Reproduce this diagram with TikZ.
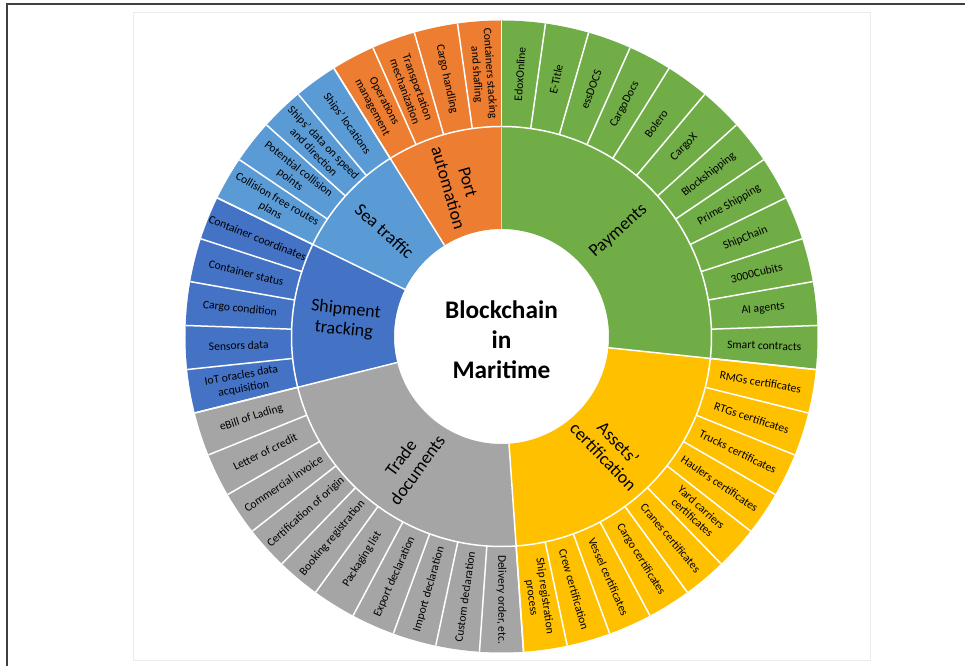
\documentclass[tikz,border=0pt]{standalone}
\usepackage{fontspec}
\setmainfont{Carlito}
\usepackage{color}
\definecolor{pay}{HTML}{70AD47}
\definecolor{cert}{HTML}{FFC000}
\definecolor{trade}{HTML}{A5A5A5}
\definecolor{track}{HTML}{4472C4}
\definecolor{sea}{HTML}{5B9BD5}
\definecolor{port}{HTML}{ED7D31}

\begin{document}
\begin{tikzpicture}[
  leaf/.style={font=\fontsize{6.6}{7.6}\selectfont,align=center},
  group/.style={font=\fontsize{10.2}{11.6}\selectfont,align=center},
  hub/.style={font=\fontsize{14.4}{17}\selectfont\bfseries,align=center},
  gap/.style={white,line width=0.85pt}]

\useasboundingbox (-10.03,-6.59) rectangle (9.27,6.73);
\draw[black!75,line width=1.1pt] (-9.89,-6.59) -- (-9.89,6.65) -- (9.27,6.65);
\draw[black!8] (-7.37,-6.47) rectangle (7.37,6.49);

\def\rhub{2.15}
\def\rmid{4.2}
\def\rout{6.32}

\def\groups{1/90/-6/pay/{Payments},2/-6/-86/cert/{Assets’\\certification},3/-86/-166/trade/{Trade\\documents},4/-166/-206/track/{Shipment\\tracking},5/-206/-238/sea/{Sea traffic},6/-238/-270/port/{Port\\automation}}
\foreach \i / \a / \b / \col / \element in \groups {
  \fill[\col] (\a:\rhub) -- (\a:\rout) arc[start angle=\a,end angle=\b,radius=\rout]
    -- (\b:\rhub) arc[start angle=\b,end angle=\a,radius=\rhub] -- cycle;
  \draw[gap] (\a:\rhub) -- (\a:\rout);
  \draw[gap] (\a:\rmid) arc[start angle=\a,end angle=\b,radius=\rmid];
  \pgfmathsetmacro\m{(\a+\b)/2}
  \pgfmathsetmacro\r{\m<-90 ? \m+180 : \m}
  \node[group,rotate=\r] (p\i) at (\m:3.15) {\element};
}

\foreach \k in {0,...,44}
  \draw[gap] ({90-8*\k}:\rmid) -- ({90-8*\k}:\rout);

\def\leaves{0/{EdoxOnline},1/{E-Title},2/{essDOCS},3/{CargoDocs},4/{Bolero},5/{CargoX},6/{Blockshipping},7/{Prime Shipping},8/{ShipChain},9/{3000Cubits},10/{AI agents},11/{Smart contracts},12/{RMGs certificates},13/{RTGs certificates},14/{Trucks certificates},15/{Haulers certificates},16/{Yard carriers\\certificates},17/{Cranes certificates},18/{Cargo certificates},19/{Vessel certificates},20/{Crew certification},21/{Ship registration\\process},22/{Delivery order, etc.},23/{Custom declaration},24/{Import declaration},25/{Export declaration},26/{Packaging list},27/{Booking registration},28/{Certification of origin},29/{Commercial invoice},30/{Letter of credit},31/{eBill of Lading},32/{IoT oracles data\\acquisition},33/{Sensors data},34/{Cargo condition},35/{Container status},36/{Container coordinates},37/{Collision free routes\\plans},38/{Potential collision\\points},39/{Ships’ data on speed\\and direction},40/{Ships’ locations},41/{Operations\\management},42/{Transportation\\mechanization},43/{Cargo handling},44/{Containers stacking\\and shafling}}
\foreach \i / \element in \leaves {
  \pgfmathsetmacro\m{86-8*\i}
  \pgfmathsetmacro\r{\m<-90 ? \m+180 : \m}
  \node[leaf,rotate=\r] (l\i) at (\m:5.26) {\element};
}

\node[hub] (bc) at (0,-0.06) {Blockchain\\in\\Maritime};

\end{tikzpicture}
\end{document}
